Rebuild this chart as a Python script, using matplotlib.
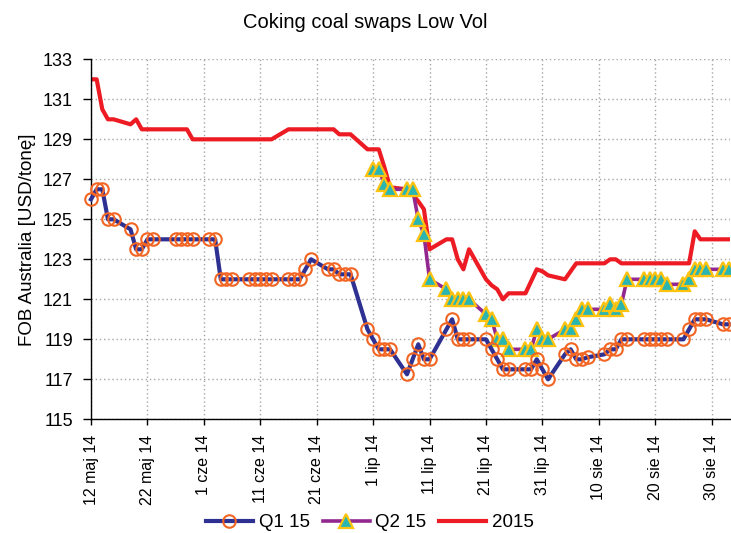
import numpy as np
import pandas as pd
import matplotlib
matplotlib.use('Agg')
import matplotlib.pyplot as plt

plt.rcParams['font.family'] = ['Liberation Sans', 'DejaVu Sans']

# business days, 26 May missing in the source
dates = pd.bdate_range('2014-05-12', '2014-09-02')
dates = dates[dates != pd.Timestamp('2014-05-26')]

q1_15 = [126, 126.5, 126.5, 125, 125, 124.5, 123.5, 123.5, 124, 124,
         124, 124, 124, 124, 124, 124, 122, 122, 122, 122,
         122, 122, 122, 122, 122, 122, 122, 122.5, 123, 122.5,
         122.5, 122.25, 122.25, 122.25, 119.5, 119, 118.5, 118.5, 118.5, 117.25,
         118, 118.75, 118, 118, 119.5, 120, 119, 119, 119, 119,
         118.5, 118, 117.5, 117.5, 117.5, 117.5, 118, 117.5, 117, 118.25,
         118.5, 118, 118, 118.1, 118.25, 118.5, 118.5, 119, 119, 119,
         119, 119, 119, 119, 119, 119.5, 120, 120, 120, 119.75,
         119.75]

q2_15 = [np.nan] * 35 + [
         127.5, 127.5, 126.75, 126.5, 126.5, 126.5, 125, 124.25, 122, 121.5,
         121, 121, 121, 121, 120.25, 120, 119, 119, 118.5, 118.5,
         118.5, 119.5, 119, 119, 119.5, 119.5, 120, 120.5, 120.5, 120.5,
         120.75, 120.5, 120.75, 122, 122, 122, 122, 122, 121.75, 121.75,
         122, 122.5, 122.5, 122.5, 122.5, 122.5]

y2015 = [132, 132, 130.5, 130, 130, 129.75, 130, 129.5, 129.5, 129.5,
         129.5, 129.5, 129.5, 129, 129, 129, 129, 129, 129, 129,
         129, 129, 129, 129, 129.5, 129.5, 129.5, 129.5, 129.5, 129.5,
         129.5, 129.25, 129.25, 129.25, 128.5, 128.5, 128.5, 127.6, 126.6, 126.5,
         126.25, 125.9, 125.5, 123.5, 124, 124, 123, 122.5, 123.5, 122,
         121.7, 121.5, 121, 121.3, 121.3, 121.9, 122.5, 122.4, 122.2, 122,
         122.4, 122.8, 122.8, 122.8, 122.8, 123, 123, 122.8, 122.8, 122.8,
         122.8, 122.8, 122.8, 122.8, 122.8, 122.8, 124.4, 124, 124, 124,
         124]

xtick_dates = pd.date_range('2014-05-12', '2014-08-30', freq='10D')
xtick_labels = ['12 maj 14', '22 maj 14', '1 cze 14', '11 cze 14', '21 cze 14',
                '1 lip 14', '11 lip 14', '21 lip 14', '31 lip 14', '10 sie 14',
                '20 sie 14', '30 sie 14']

fig = plt.figure(figsize=(7.31, 5.33), dpi=100)
ax = fig.add_axes([0.1245, 0.2133, 0.8735, 0.6754])

ax.plot(dates, y2015, color='#ED1C24', lw=3, label='2015', zorder=2)
ax.plot(dates, q2_15, color='#92278F', lw=2.6, marker='^', ms=9.5,
        mfc='#2BB5B0', mec='#FFC20E', mew=1.6, label='Q2 15', zorder=3, clip_on=False)
ax.plot(dates, q1_15, color='#2E3192', lw=3, marker='o', ms=9,
        mfc='none', mec='#F26522', mew=1.5, label='Q1 15', zorder=4, clip_on=False)

ax.set_xlim(pd.Timestamp('2014-05-12'), pd.Timestamp('2014-09-02 04:00'))
ax.set_ylim(115, 133)
ax.set_yticks(np.arange(115, 134, 2))
ax.set_xticks(xtick_dates)
ax.set_xticklabels(xtick_labels, rotation=90, ha='center', va='top')

ax.grid(True, color='#A5A5A5', linestyle=(0, (1, 2)), linewidth=1)
ax.set_axisbelow(True)
for s in ['top', 'right']:
    ax.spines[s].set_visible(False)
for s in ['left', 'bottom']:
    ax.spines[s].set_color('#000000')
    ax.spines[s].set_linewidth(1)
ax.tick_params(axis='y', direction='out', length=6, width=1, pad=7, labelsize=13)
ax.tick_params(axis='x', direction='out', length=4, width=1, pad=7, labelsize=11.5)

ax.set_ylabel('FOB Australia [USD/tonę]', fontsize=13.5, labelpad=5)
fig.text(0.5, 0.957, 'Coking coal swaps Low Vol', ha='center', va='center', fontsize=14.5)

h, l = ax.get_legend_handles_labels()
order = [2, 1, 0]
fig.legend([h[i] for i in order], [l[i] for i in order], loc='center',
           bbox_to_anchor=(0.506, 0.019), ncol=3, frameon=False, fontsize=13.5,
           handlelength=2.5, handletextpad=0.3, columnspacing=0.7)

fig.savefig('out.png', dpi=100)
